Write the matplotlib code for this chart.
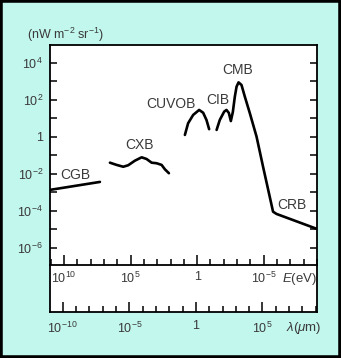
import matplotlib
matplotlib.use("Agg")
import matplotlib.pyplot as plt
import numpy as np
from matplotlib.ticker import FixedLocator, FuncFormatter, NullFormatter
from matplotlib.patches import Rectangle

plt.rcParams['font.family'] = ['Liberation Sans Narrow', 'Liberation Sans', 'DejaVu Sans']
plt.rcParams['mathtext.fontset'] = 'custom'
plt.rcParams['mathtext.rm'] = 'Liberation Sans'
plt.rcParams['mathtext.it'] = 'Liberation Sans:italic'

# ---- data (log10 of photon energy in eV, log10 of intensity in nW m^-2 sr^-1) ----
cgb_logE = [11.05, 7.30]
cgb_logI = [-2.86, -2.43]

cxb_logE = [6.55, 6.05, 5.55, 5.18, 4.67, 4.17, 3.80, 3.42, 3.05, 2.67, 2.42, 2.12]
cxb_logI = [-1.39, -1.51, -1.61, -1.53, -1.28, -1.10, -1.19, -1.39, -1.42, -1.51, -1.75, -1.96]

cuvob_logE = [0.92, 0.68, 0.30, -0.15, -0.45, -0.70, -0.90]
cuvob_logI = [0.11, 0.74, 1.19, 1.46, 1.31, 0.92, 0.42]

cib_cmb_crb_logE = [-1.46, -1.70, -2.03, -2.20, -2.38, -2.53, -2.68, -2.83, -2.96, -3.11,
                    -3.33, -3.58, -3.95, -4.46, -4.95, -5.45, -5.70, -5.96, -8.96]
cib_cmb_crb_logI = [0.38, 0.92, 1.37, 1.46, 1.30, 0.86, 1.35, 2.18, 2.72, 2.95,
                    2.81, 2.18, 1.30, 0.02, -1.61, -3.23, -4.04, -4.16, -4.96]

labels = ['CGB', 'CXB', 'CUVOB', 'CIB', 'CMB', 'CRB']
label_logE = [9.17, 4.30, 1.97, -1.55, -3.05, -7.10]
label_logI = [-2.05, -0.43, 1.78, 2.00, 3.62, -3.68]

y_label_exps = [4, 2, 0, -2, -4, -6]
e_label_exps = [10, 5, 0, -5]
lam_label_exps = [-10, -5, 0, 5]
HC = 1.24  # eV * micron

W, H = 341, 358
BG = '#c2f7ee'
TXT = '#3a3a3a'

fig = plt.figure(figsize=(W / 100, H / 100), dpi=100, facecolor=BG)

def fx(px):
    return px / W

def fy(py):
    return 1 - py / H

xl, xr = 50, 317
yt, ym, yb = 45, 265, 312
band = fig.add_axes([fx(xl), fy(yb), (xr - xl) / W, (yb - ym) / H])
ax = fig.add_axes([fx(xl), fy(ym), (xr - xl) / W, (ym - yt) / H])
band.set_zorder(1)
ax.set_zorder(2)

ax.set_xscale('log')
ax.set_yscale('log')
ax.set_xlim(10 ** 11.05, 10 ** -9.0)
ax.set_ylim(10 ** -6.92, 10 ** 4.97)

def pw(a):
    return [10 ** v for v in a]

for xs, ys in [(cgb_logE, cgb_logI), (cxb_logE, cxb_logI),
               (cuvob_logE, cuvob_logI), (cib_cmb_crb_logE, cib_cmb_crb_logI)]:
    ax.plot(pw(xs), pw(ys), color='black', lw=1.9, solid_capstyle='round',
            solid_joinstyle='round')

for t, lx, ly in zip(labels, label_logE, label_logI):
    ax.text(10 ** lx, 10 ** ly, t, ha='center', va='center', fontsize=10, color=TXT)

# y axis
ax.yaxis.set_major_locator(FixedLocator([10.0 ** k for k in range(-6, 5)]))
ax.yaxis.set_minor_locator(FixedLocator([]))
def yfmt(v, pos):
    k = int(round(np.log10(v)))
    if k not in y_label_exps:
        return ''
    if k == 0:
        return '1'
    return r'$\mathregular{10^{%d}}$' % k
ax.yaxis.set_major_formatter(FuncFormatter(yfmt))
ax.tick_params(axis='y', which='major', direction='in', length=5, width=1.1,
               left=True, right=True, labelsize=9, labelcolor=TXT, pad=5)

# E axis (bottom of main axes)
ax.xaxis.set_major_locator(FixedLocator([10.0 ** k for k in e_label_exps]))
ax.xaxis.set_minor_locator(FixedLocator([10.0 ** k for k in range(-9, 12)]))
def efmt(v, pos):
    k = int(round(np.log10(v)))
    return '1' if k == 0 else r'$\mathregular{10^{%d}}$' % k
ax.xaxis.set_major_formatter(FuncFormatter(efmt))
ax.xaxis.set_minor_formatter(NullFormatter())
ax.tick_params(axis='x', which='major', direction='in', length=7, width=1.1,
               labelsize=9, labelcolor=TXT, pad=4)
ax.tick_params(axis='x', which='minor', direction='in', length=4, width=1.1)
for s in ax.spines.values():
    s.set_linewidth(1.3)

# lambda axis band
band.set_xscale('log')
band.set_xlim(HC / 10 ** 11.05, HC / 10 ** -9.0)
band.set_yticks([])
band.spines['top'].set_visible(False)
for s in band.spines.values():
    s.set_linewidth(1.3)
band.xaxis.set_major_locator(FixedLocator([10.0 ** k for k in lam_label_exps]))
band.xaxis.set_minor_locator(FixedLocator([10.0 ** k for k in range(-11, 10)]))
def lfmt(v, pos):
    k = int(round(np.log10(v)))
    return '1' if k == 0 else r'$\mathregular{10^{%d}}$' % k
band.xaxis.set_major_formatter(FuncFormatter(lfmt))
band.xaxis.set_minor_formatter(NullFormatter())
band.tick_params(axis='x', which='major', direction='in', length=7, width=1.1,
                 labelsize=9, labelcolor=TXT, pad=6)
band.tick_params(axis='x', which='minor', direction='in', length=4, width=1.1)

fig.text(fx(300), fy(279), r'$E$(eV)', ha='center', va='center', fontsize=9.5, color=TXT)
fig.text(fx(304), fy(328), r'$\lambda$($\mu$m)', ha='center', va='center', fontsize=9.5, color=TXT)
fig.text(fx(27), fy(35), r'(nW m$^{-2}$ sr$^{-1}$)', ha='left', va='center', fontsize=9, color=TXT)

# dark frame
fig.patches.append(Rectangle((0, 0), 1, 1, transform=fig.transFigure, fill=False,
                             edgecolor='black', lw=4))

fig.savefig('out.png', dpi=100, facecolor=BG)
